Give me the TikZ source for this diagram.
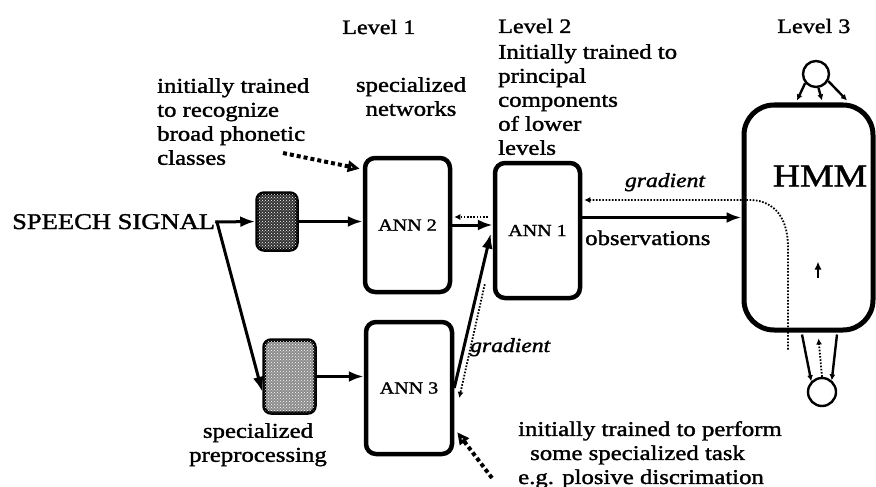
\documentclass[tikz,border=0pt]{standalone}
\usepackage{fontspec}
\setmainfont[FakeStretch=1.18,FakeBold=1.5]{Liberation Serif}
\usepackage{tikz}
\usetikzlibrary{arrows.meta,calc,patterns}

\begin{document}
\begin{tikzpicture}[x=1pt,y=-1pt,
  >={Latex[length=15pt,width=11pt]},
  box/.style={draw,line width=4.5pt,rounded corners=10pt,inner sep=0pt},
  prebox/.style={draw,line width=3.5pt,rounded corners=7pt,inner sep=0pt},
  arr/.style={->,line width=3pt},
  grad/.style={line width=1.8pt,dash pattern=on 1.6pt off 1.6pt,-{Latex[length=6pt,width=6pt]}},
  hint/.style={line width=4pt,dash pattern=on 4pt off 3pt,-{Triangle[open,length=12pt,width=11pt,line width=3pt]}},
  thin/.style={line width=2.4pt,-{Latex[length=6pt,width=6pt]}},
  txt/.style={font=\fontsize{21}{24}\selectfont,inner sep=0pt},
  lvl/.style={font=\fontsize{20.5}{24}\selectfont,inner sep=0pt,anchor=base west},
  ann/.style={font=\fontsize{17}{20}\selectfont}]
  \useasboundingbox (0,0) rectangle (876,487);

  % level headings
  \node[lvl] (lev1) at (342,34) {Level 1};
  \node[lvl] (lev2) at (498,33) {Level 2};
  \node[lvl] (lev3) at (777,33) {Level 3};

  % input and preprocessing
  \node[font=\fontsize{22.5}{26}\selectfont,inner sep=0pt,anchor=base west] (speech) at (12,229) {SPEECH SIGNAL};
  \node[prebox,fill=black!80,minimum width=40pt,minimum height=57pt,
        postaction={pattern=crosshatch dots,pattern color=white}] (pre1) at (277,221.5) {};
  \node[prebox,fill=black!45,minimum width=51pt,minimum height=73pt,
        postaction={pattern=crosshatch dots,pattern color=white}] (pre2) at (289.5,376.5) {};
  \node[txt,align=center,anchor=north] (prelbl) at (258,423) {specialized\\preprocessing};

  % networks
  \node[box,ann,minimum width=85pt,minimum height=134pt] (ann2) at (407.5,225) {ANN 2};
  \node[box,ann,minimum width=85pt,minimum height=135pt] (ann1) at (537.5,230.5) {ANN 1};
  \node[box,ann,minimum width=86pt,minimum height=132pt] (ann3) at (409,388) {ANN 3};
  \node[txt,align=left,anchor=north west] (broad) at (157,78)
    {initially trained\\to recognize\\broad phonetic\\classes};
  \node[txt,align=center,anchor=north] (spec) at (411,77) {specialized\\networks};
  \node[txt,align=left,anchor=north west] (pca) at (498,44)
    {Initially trained to\\principal\\components\\of lower\\levels};
  \node[txt,align=left,anchor=north west] (task) at (518,421)
    {initially trained to perform\\\hspace{12pt}some specialized task\\e.g. plosive discrimation};

  % HMM with its states
  \node[draw,line width=5pt,rounded corners=30pt,minimum width=129pt,minimum height=225pt] (hmm) at (808.5,217.5) {};
  \node[font=\fontsize{32}{36}\selectfont] (hmmlbl) at (820,176) {HMM};
  \node[circle,draw,line width=2.4pt,minimum size=26pt,inner sep=0pt] (tcirc) at (816,74) {};
  \node[circle,draw,line width=2.4pt,minimum size=28pt,inner sep=0pt] (bcirc) at (822,392) {};

  % forward paths
  \coordinate (split) at (217,222);
  \draw[line width=3pt] (speech.east) -- (split);
  \draw[arr] (split) -- (pre1.west);
  \draw[arr] (split) -- ($(pre2.south west)!0.3!(pre2.north west)$);
  \draw[arr] (pre1.east) -- (pre1.east -| ann2.west);
  \draw[arr] (pre2.east) -- (pre2.east -| ann3.west);
  \draw[arr] (ann2.east) -- (ann2.east -| ann1.west);
  \draw[arr] (ann3.east) -- ($(ann1.west)+(-2,3)$);
  \draw[arr] (hmm.west -| ann1.east) -- (hmm.west);
  \node[txt,anchor=base west] (obs) at (585,245) {observations};

  % gradient back paths
  \draw[grad] ($(hmm.south)+(-20.5,17)$) -- ($(hmm.south)+(-20.5,-85)$)
    .. controls +(0,-35) and +(20,0) .. ($(hmm.west)+(8,-17.5)$) -- ($(ann1.east)+(2,-30.5)$);
  \node[txt,font=\fontsize{20}{24}\selectfont\itshape,anchor=base] (grad1) at (665,187) {gradient};
  \draw[grad] ($(ann1.west)+(-5,-13.5)$) -- ($(ann2.east)+(2,-8)$);
  \draw[grad] ($(ann1.south west)+(-8,-16)$) -- ($(ann3.east)+(5,10)$);
  \node[txt,font=\fontsize{20}{24}\selectfont\itshape,anchor=base west] (grad2) at (470,352) {gradient};

  % transitions
  \draw[thin] (tcirc.220) -- ($(hmm.north)+(-11.5,-2)$);
  \draw[thin] (tcirc.280) -- ($(hmm.north)+(13.5,-2)$);
  \draw[thin] (tcirc.330) -- ($(hmm.north)+(38.5,-2)$);
  \draw[thin] ($(hmm.south)+(-6.5,2)$) -- (bcirc.135);
  \draw[thin] ($(hmm.south)+(28.5,2)$) -- (bcirc.50);
  \draw[grad] (bcirc.north) -- ($(hmm.south)+(10,6)$);
  \draw[line width=1.8pt,-{Latex[length=8pt,width=7pt]}] ($(hmm.center)+(9.5,60)$) -- +(0,-16);

  % notes
  \coordinate (h1) at (283,153);
  \coordinate (h2) at (492,478);
  \draw[hint] (h1) -- ($(ann2.north west)+(-3,13)$);
  \draw[hint] (h2) -- ($(ann3.south east)+(3,-24)$);
\end{tikzpicture}
\end{document}
